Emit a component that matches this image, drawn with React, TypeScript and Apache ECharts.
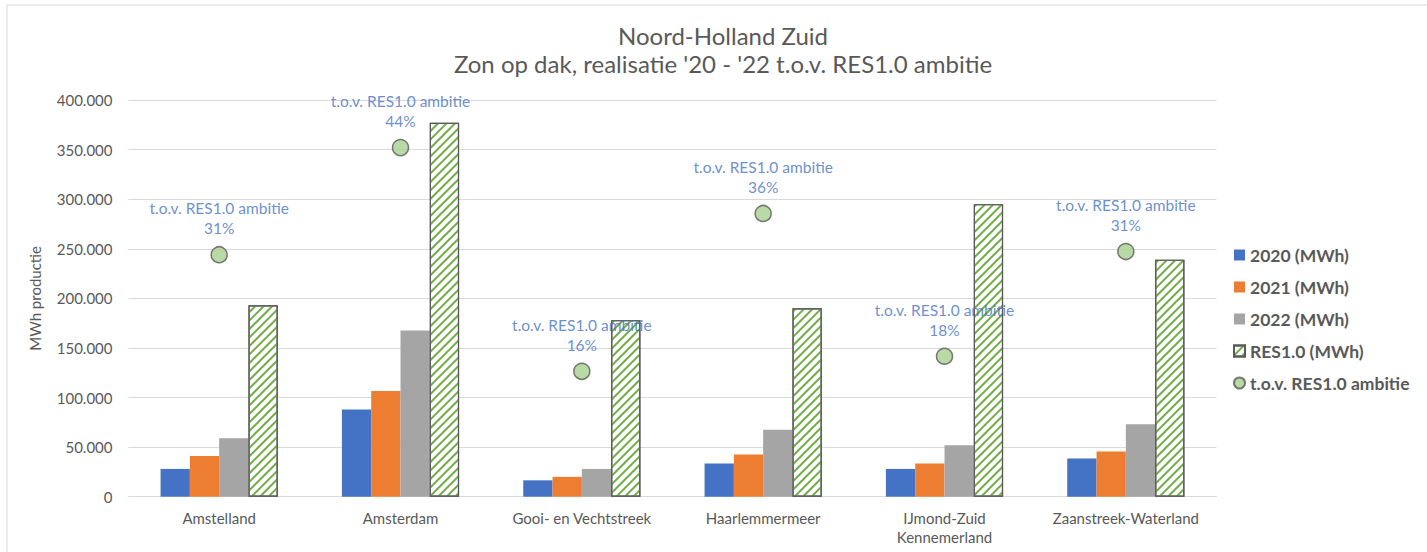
import React, { useEffect, useRef } from "react";
import * as echarts from "echarts";

const categories = [
  "Amstelland",
  "Amsterdam",
  "Gooi- en Vechtstreek",
  "Haarlemmermeer",
  "IJmond-Zuid\nKennemerland",
  "Zaanstreek-Waterland",
];
const mwh2020 = [28000, 88000, 16500, 33500, 28000, 38500];
const mwh2021 = [41000, 106500, 20000, 42500, 33500, 45500];
const mwh2022 = [59000, 167500, 28000, 67500, 52000, 73000];
const res10 = [193000, 377000, 178000, 190000, 295000, 239000];
const ambitiePct = [0.305, 0.44, 0.158, 0.357, 0.177, 0.309];
const seriesNames = ["2020 (MWh)", "2021 (MWh)", "2022 (MWh)", "RES1.0 (MWh)", "t.o.v. RES1.0 ambitie"];

const FONT = "Lato";
const GRAY = "#595959";

function fmt(v: number): string {
  return String(Math.round(v)).replace(/\B(?=(\d{3})+(?!\d))/g, ".");
}

export default function App() {
  const ref = useRef<HTMLDivElement>(null);
  useEffect(() => {
    document.body.style.margin = "0";
    const chart = echarts.init(ref.current!, null, { renderer: "svg" });
    const barW = 29.3;
    chart.setOption({
      animation: false,
      backgroundColor: "#ffffff",
      textStyle: { fontFamily: FONT },
      title: {
        text: "Noord-Holland Zuid\nZon op dak, realisatie '20 - '22 t.o.v. RES1.0 ambitie",
        left: 718,
        textAlign: "center",
        top: 16,
        textStyle: { fontFamily: FONT, fontSize: 24, fontWeight: "normal", color: GRAY, lineHeight: 28 },
      },
      graphic: [
        {
          type: "rect",
          shape: { x: 7, y: 5, width: 1500, height: 600 },
          style: { fill: "none", stroke: "#d9d9d9", lineWidth: 1 },
          silent: true,
        },
      ],
      legend: {
        orient: "vertical",
        left: 1228,
        top: 241,
        itemGap: 14,
        itemWidth: 11,
        itemHeight: 11,
        data: seriesNames.map((n, i) => ({ name: n, icon: i === 4 ? "circle" : "rect" })),
        textStyle: { fontFamily: FONT, fontSize: 17.5, fontWeight: "bold", color: GRAY },
      },
      grid: { left: 128.5, right: 210.5, top: 100, bottom: 55.3, containLabel: false },
      xAxis: {
        type: "category",
        data: categories,
        axisLine: { lineStyle: { color: "#d9d9d9" } },
        axisTick: { show: false },
        axisLabel: { color: GRAY, fontFamily: FONT, fontSize: 15, margin: 12, lineHeight: 19, interval: 0 },
      },
      yAxis: [
        {
          type: "value",
          min: 0,
          max: 400000,
          interval: 50000,
          name: "MWh productie",
          nameLocation: "middle",
          nameGap: 86,
          nameRotate: 90,
          nameTextStyle: { color: GRAY, fontFamily: FONT, fontSize: 15 },
          axisLine: { show: false },
          axisTick: { show: false },
          splitLine: { lineStyle: { color: "#d9d9d9" } },
          axisLabel: { color: GRAY, fontFamily: FONT, fontSize: 15, margin: 16, formatter: (v: number) => fmt(v) },
        },
        { type: "value", min: 0, max: 0.5, show: false, splitLine: { show: false } },
      ],
      series: [
        { name: seriesNames[0], type: "bar", data: mwh2020, barWidth: barW, barGap: "0%", itemStyle: { color: "#4472c4" } },
        { name: seriesNames[1], type: "bar", data: mwh2021, barWidth: barW, barGap: "0%", itemStyle: { color: "#ed7d31" } },
        { name: seriesNames[2], type: "bar", data: mwh2022, barWidth: barW, barGap: "0%", itemStyle: { color: "#a5a5a5" } },
        {
          name: seriesNames[3],
          type: "bar",
          data: res10,
          barWidth: barW,
          barGap: "0%",
          itemStyle: {
            color: "#ffffff",
            borderColor: GRAY,
            borderWidth: 1.2,
            decal: {
              symbol: "rect",
              symbolSize: 1,
              color: "#70ad47",
              dashArrayX: [1, 0],
              dashArrayY: [2, 4],
              rotation: -Math.PI / 4,
            },
          },
        },
        {
          name: seriesNames[4],
          type: "scatter",
          yAxisIndex: 1,
          data: ambitiePct,
          symbol: "circle",
          symbolSize: 16,
          z: 10,
          itemStyle: { color: "#a9d18e", borderColor: GRAY, borderWidth: 1.5 },
          label: {
            show: true,
            position: "top",
            distance: 8,
            color: "#4472c4",
            fontFamily: FONT,
            fontSize: 15.5,
            lineHeight: 20,
            align: "center",
            formatter: (p: any) => `t.o.v. RES1.0 ambitie\n${Math.round(p.value * 100)}%`,
          },
        },
      ],
    });
    return () => chart.dispose();
  }, []);
  return <div ref={ref} style={{ width: 1427, height: 552 }} />;
}
